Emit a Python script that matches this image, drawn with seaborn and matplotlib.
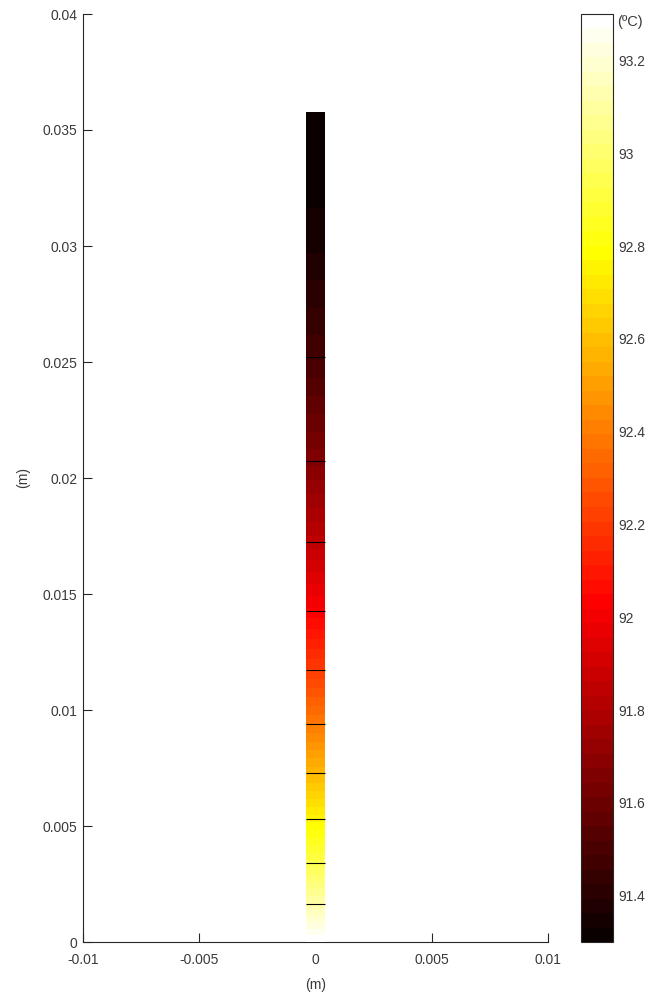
import numpy as np
import matplotlib
matplotlib.use("Agg")
import matplotlib.pyplot as plt
from matplotlib.colors import Normalize
import seaborn as sns

# Fin cross-section half width (m)
fin_half_width = 0.0004

# Heights along the fin (m) and the temperature at each height (ºC)
fin_height = [0.0, 0.00164, 0.00341, 0.00530, 0.00728, 0.00940, 0.01172,
              0.01427, 0.01724, 0.02073, 0.02522, 0.02970, 0.03164, 0.03576]
fin_temp = [93.300, 93.118, 92.936, 92.755, 92.573, 92.391, 92.209,
            92.027, 91.845, 91.664, 91.482, 91.362, 91.331, 91.300]

# Isotherms drawn over the fin
isotherm_levels = [91.482, 91.664, 91.845, 92.027, 92.209,
                   92.391, 92.573, 92.755, 92.936, 93.118]

# Colour range and ticks
t_min, t_max = 91.3, 93.3
cbar_ticks = [91.4, 91.6, 91.8, 92.0, 92.2, 92.4, 92.6, 92.8, 93.0, 93.2]
cbar_labels = ["91.4", "91.6", "91.8", "92", "92.2", "92.4", "92.6", "92.8", "93", "93.2"]
x_ticks = [-0.01, -0.005, 0, 0.005, 0.01]
x_labels = ["-0.01", "-0.005", "0", "0.005", "0.01"]
y_ticks = [0, 0.005, 0.01, 0.015, 0.02, 0.025, 0.03, 0.035, 0.04]
y_labels = ["0", "0.005", "0.01", "0.015", "0.02", "0.025", "0.03", "0.035", "0.04"]

sns.set_theme(style="white")
plt.rcParams["font.family"] = ["Liberation Sans", "DejaVu Sans"]
plt.rcParams["font.size"] = 10

ink = "#262626"
text_col = "#3a3a3a"

fig = plt.figure(figsize=(6.5, 9.97), dpi=100)
ax = fig.add_axes([83 / 650, 55 / 997, 465 / 650, 928 / 997])
cax = fig.add_axes([581 / 650, 55 / 997, 32 / 650, 928 / 997])

# Temperature field on the fin (uniform across the width)
X, Y = np.meshgrid([-fin_half_width, fin_half_width], fin_height)
T = np.column_stack([fin_temp, fin_temp])

cmap = plt.get_cmap("hot", 64)
norm = Normalize(vmin=t_min, vmax=t_max)
band_levels = np.linspace(t_min, t_max, 65)

cf = ax.contourf(X, Y, T, levels=band_levels, cmap=cmap, norm=norm,
                 antialiased=False, zorder=3)
ax.contour(X, Y, T, levels=isotherm_levels, colors="black",
           linewidths=0.8, zorder=4)

ax.set_xlim(-0.01, 0.01)
ax.set_ylim(0, 0.04)
ax.set_xticks(x_ticks)
ax.set_xticklabels(x_labels)
ax.set_yticks(y_ticks)
ax.set_yticklabels(y_labels)
ax.set_xlabel("(m)", color=text_col, fontsize=10, labelpad=8)
ax.set_ylabel("(m)", color=text_col, fontsize=10, labelpad=9)

sns.despine(ax=ax)
for side in ("left", "bottom"):
    ax.spines[side].set_color(ink)
    ax.spines[side].set_linewidth(0.8)
ax.tick_params(axis="x", direction="in", length=6.5, width=0.8, color=ink,
               labelcolor=text_col, labelsize=10, pad=8, bottom=True, top=False)
ax.tick_params(axis="y", direction="in", length=6.5, width=0.8, color=ink,
               labelcolor=text_col, labelsize=10, pad=4, left=True, right=False)
ax.set_facecolor("white")

# Colour bar
cb = fig.colorbar(cf, cax=cax, ticks=cbar_ticks)
cb.minorticks_off()
cax.set_yticks(cbar_ticks)
cax.set_yticklabels(cbar_labels)
cax.tick_params(direction="in", length=7, width=0.8, color=ink,
                labelcolor=text_col, labelsize=10, pad=4, right=True, left=False)
cb.outline.set_edgecolor(ink)
cb.outline.set_linewidth(0.8)
cax.text(1.12, 0.9985, "(ºC)", transform=cax.transAxes, ha="left", va="top",
         color=text_col, fontsize=10.5)

fig.savefig("out.png", dpi=100, facecolor="white")
